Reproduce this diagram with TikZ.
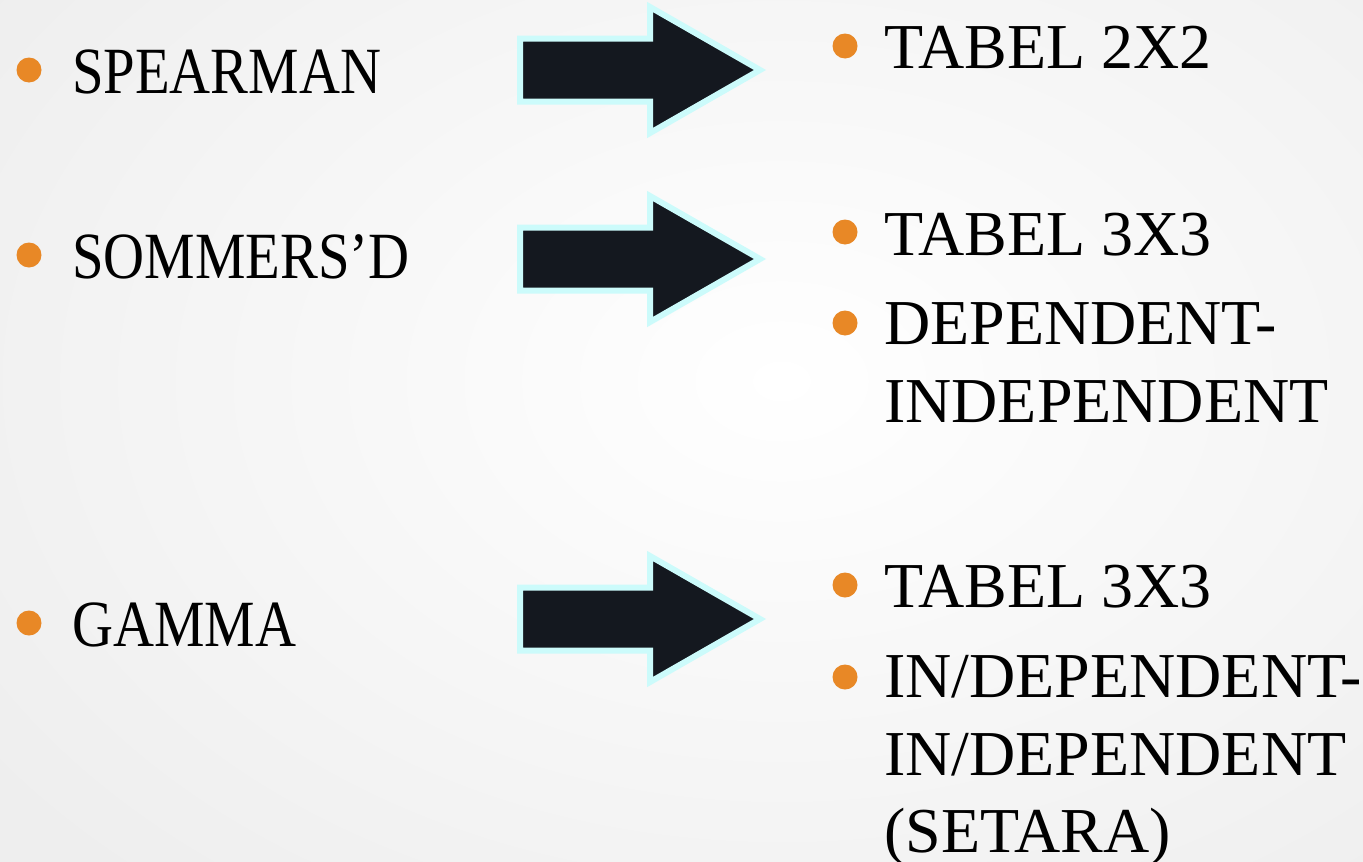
\documentclass[tikz,border=0pt]{standalone}
\usepackage{fontspec}
\setmainfont{Liberation Serif}
\newfontfamily\leftfont[FakeStretch=0.86]{Liberation Serif}
\definecolor{bulletorange}{RGB}{232,136,38}
\definecolor{arrowdark}{RGB}{20,24,31}
\definecolor{arrowglow}{RGB}{204,251,251}
\definecolor{bggrey}{RGB}{238,238,238}
\tikzset{
  lefttext/.style={anchor=base west, inner sep=0pt, font=\leftfont\fontsize{66}{70}\selectfont},
  righttext/.style={anchor=base west, inner sep=0pt, font=\fontsize{64}{70}\selectfont},
  fatarrow/.style={fill=arrowdark, draw=arrowglow, line width=6pt},
  dot/.style={fill=bulletorange}
}
\begin{document}
\begin{tikzpicture}[x=1pt,y=-1pt]
    \useasboundingbox (0,0) rectangle (1363,862);
    \begin{scope}
    \clip (0,0) rectangle (1363,862);
    \shade[inner color=white, outer color=bggrey] (-200,-300) rectangle (1763,1062);
    \end{scope}

    \fill[dot] (29,70) circle (12.5pt);
    \fill[dot] (29,255) circle (12.5pt);
    \fill[dot] (29,623) circle (12.5pt);
    \node[lefttext] (spearman) at (72,93) {SPEARMAN};
    \node[lefttext] (sommers) at (72,278) {SOMMERS’D};
    \node[lefttext] (gamma) at (72,646) {GAMMA};

    \foreach \y in {70,259,619}
        \draw[fatarrow] (520,\y-31.5) -- (650,\y-31.5) -- (650,\y-63) -- (760,\y)
            -- (650,\y+63) -- (650,\y+31.5) -- (520,\y+31.5) -- cycle;

    \fill[dot] (845,46) circle (12.5pt);
    \fill[dot] (845,232) circle (12.5pt);
    \fill[dot] (845,323) circle (12.5pt);
    \fill[dot] (845,585) circle (12.5pt);
    \fill[dot] (845,677) circle (12.5pt);
    \node[righttext] (tabelA) at (884,68) {TABEL 2X2};
    \node[righttext] (tabelB) at (884,255) {TABEL 3X3};
    \node[righttext] (depA) at (884,344) {DEPENDENT-};
    \node[righttext] (depB) at (884,422) {INDEPENDENT};
    \node[righttext] (tabelC) at (884,607) {TABEL 3X3};
    \node[righttext] (indepA) at (884,697) {IN/DEPENDENT-};
    \node[righttext] (indepB) at (884,775) {IN/DEPENDENT};
    \node[righttext] (setara) at (884,852) {(SETARA)};
\end{tikzpicture}
\end{document}
